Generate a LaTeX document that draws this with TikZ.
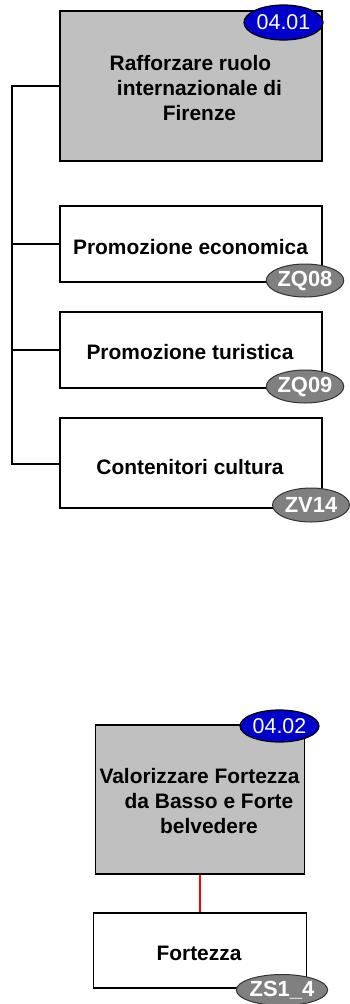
\documentclass[tikz,border=0pt]{standalone}
\usepackage{fontspec}
\setmainfont{Liberation Sans}
\usetikzlibrary{shapes.geometric}
\definecolor{boxgray}{HTML}{C0C0C0}
\definecolor{ovalblue}{HTML}{0000CC}
\definecolor{ovalgray}{HTML}{808080}
\definecolor{linkred}{HTML}{FF0000}
\begin{document}
\begin{tikzpicture}[x=1bp,y=-1bp,
  box/.style={draw=black, line width=1.8bp, rectangle, inner sep=0pt},
  goal/.style={box, fill=boxgray},
  txt/.style={inner sep=0pt, font=\fontsize{21}{25.5}\selectfont\bfseries, align=center},
  codeblue/.style={ellipse, draw=black, line width=1.2bp, fill=ovalblue, inner sep=0pt,
     text=white, font=\fontsize{21.5}{25}\selectfont},
  codegray/.style={ellipse, draw=black!80, line width=1bp, fill=ovalgray, inner sep=0pt,
     text=white, font=\fontsize{22}{25}\selectfont\bfseries},
  conn/.style={draw=black, line width=2bp},
  redconn/.style={draw=linkred, line width=2bp}]
\useasboundingbox (0,0) rectangle (349,1004);
\fill[white] (0,0) rectangle (349,1004);

% boxes
\node[goal, minimum width=262bp, minimum height=150bp] (b1) at (191,86) {};
\node[box, minimum width=262bp, minimum height=76bp] (b2) at (191,244) {};
\node[box, minimum width=262bp, minimum height=76bp] (b3) at (191,350) {};
\node[box, minimum width=262bp, minimum height=90bp] (b4) at (191,463) {};
\node[goal, minimum width=209bp, minimum height=149bp] (b5) at (200,799.5) {};
\node[box, minimum width=213bp, minimum height=75bp] (b6) at (200,950.5) {};

% texts
\node[txt] (t1) at (199.5,88) {Rafforzare ruolo\hspace*{18bp}\\internazionale di\\Firenze};
\node[txt] (t2) at (190.5,247) {Promozione economica};
\node[txt] (t3) at (190,352) {Promozione turistica};
\node[txt] (t4) at (190,467) {Contenitori cultura};
\node[txt] (t5) at (209,801) {Valorizzare Fortezza\hspace*{19bp}\\da Basso e Forte\\belvedere};
\node[txt] (t6) at (199,953) {Fortezza};

% connectors
\coordinate (trunk) at (12,464);
\draw[conn] (b1.west) -| (trunk) -- (b4.west |- trunk);
\draw[conn] (b2.west) -- (b2.west -| trunk);
\draw[conn] (b3.west) -- (b3.west -| trunk);
\draw[redconn] (b5.south) -- (b6.north);

% code ellipses
\node[codeblue, minimum width=79bp, minimum height=35bp] (e1) at (283.5,22.5) {04.01};
\node[codegray, minimum width=76bp, minimum height=33bp] (e2) at (305,280.5) {ZQ08};
\node[codegray, minimum width=76bp, minimum height=33bp] (e3) at (305,386.5) {ZQ09};
\node[codegray, minimum width=77bp, minimum height=34bp] (e4) at (311,505) {ZV14};
\node[codeblue, minimum width=79bp, minimum height=32bp] (e5) at (279.5,726) {04.02};
\node[codegray, minimum width=80bp, minimum height=31bp] (e6) at (282,990) {ZS1\_4};
\end{tikzpicture}
\end{document}
